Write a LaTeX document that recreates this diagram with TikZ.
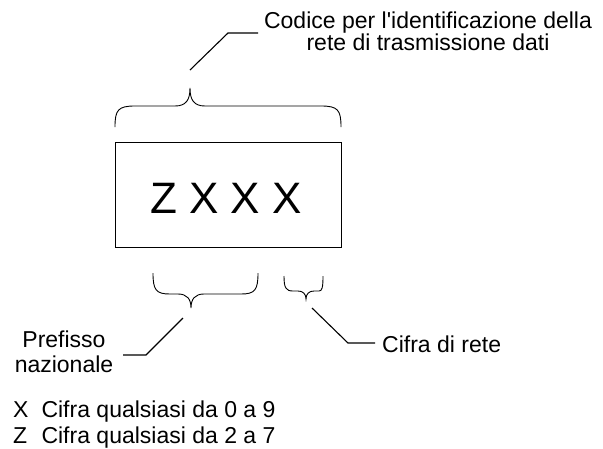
\documentclass[tikz,border=0pt]{standalone}
\usepackage{fontspec}
\setmainfont{Liberation Sans}
\begin{document}
\begin{tikzpicture}[x=1pt,y=-1pt,
  lbl/.style={inner sep=0pt,font=\fontsize{23}{25}\selectfont},
  brace/.style={line width=0.9pt},
  leader/.style={line width=1.1pt}]
\useasboundingbox (0,0) rectangle (603,448);
% box
\node[draw,line width=0.9pt,minimum width=226pt,minimum height=105pt,inner sep=0pt] (box) at (228,194.5) {};
\node[inner sep=0pt,anchor=base,font=\fontsize{44}{50}\selectfont] (code) at (226,213) {Z X X X};
% top brace
\draw[brace] (115,127) .. controls (115,110) and (118,106) .. (135,106) -- (175,106)
  .. controls (186,106) and (190,100) .. (190,88)
  .. controls (190,100) and (194,106) .. (205,106) -- (321,106)
  .. controls (338,106) and (341,110) .. (341,127);
\coordinate (t0) at (190,70);
\coordinate (t1) at (228,33);
\node[lbl,align=center,anchor=base,font=\fontsize{23}{22}\selectfont] (top) at (428,50) {Codice per l\textquotesingle identificazione della\\rete di trasmissione dati};
\draw[leader] (t0) -- (t1) -- (258,33);
% bottom left brace
\draw[brace] (153,273) .. controls (153,290) and (156,294) .. (170,294) -- (178,294)
  .. controls (187,294) and (191,299) .. (191,308)
  .. controls (191,299) and (195,294) .. (204,294) -- (241,294)
  .. controls (255,294) and (258,290) .. (258,273);
% bottom right brace
\draw[brace] (284,276) .. controls (284,288) and (286,291) .. (293,291) -- (298,291)
  .. controls (303,291) and (306,294) .. (306,299)
  .. controls (306,294) and (309,291) .. (314,291) -- (319,291)
  .. controls (322,291) and (323,288) .. (323,276);
% Prefisso
\node[lbl,align=center,anchor=base] (pref) at (64,372) {Prefisso\\nazionale};
\coordinate (p0) at (183,318);
\coordinate (p1) at (146,355);
\draw[leader] (p0) -- (p1) -- (123,355);
% Cifra di rete
\node[lbl,anchor=base west] (cifra) at (382,352) {Cifra di rete};
\coordinate (c0) at (312,308);
\coordinate (c1) at (348,343);
\draw[leader] (c0) -- (c1) -- (375,343);
% legend
\node[lbl,anchor=base west,font=\fontsize{23}{26}\selectfont] (leg) at (13,443) {%
  \begin{tabular}[b]{@{}l@{\hspace{13pt}}l@{}}X&Cifra qualsiasi da 0 a 9\\Z&Cifra qualsiasi da 2 a 7\end{tabular}};
\end{tikzpicture}
\end{document}
